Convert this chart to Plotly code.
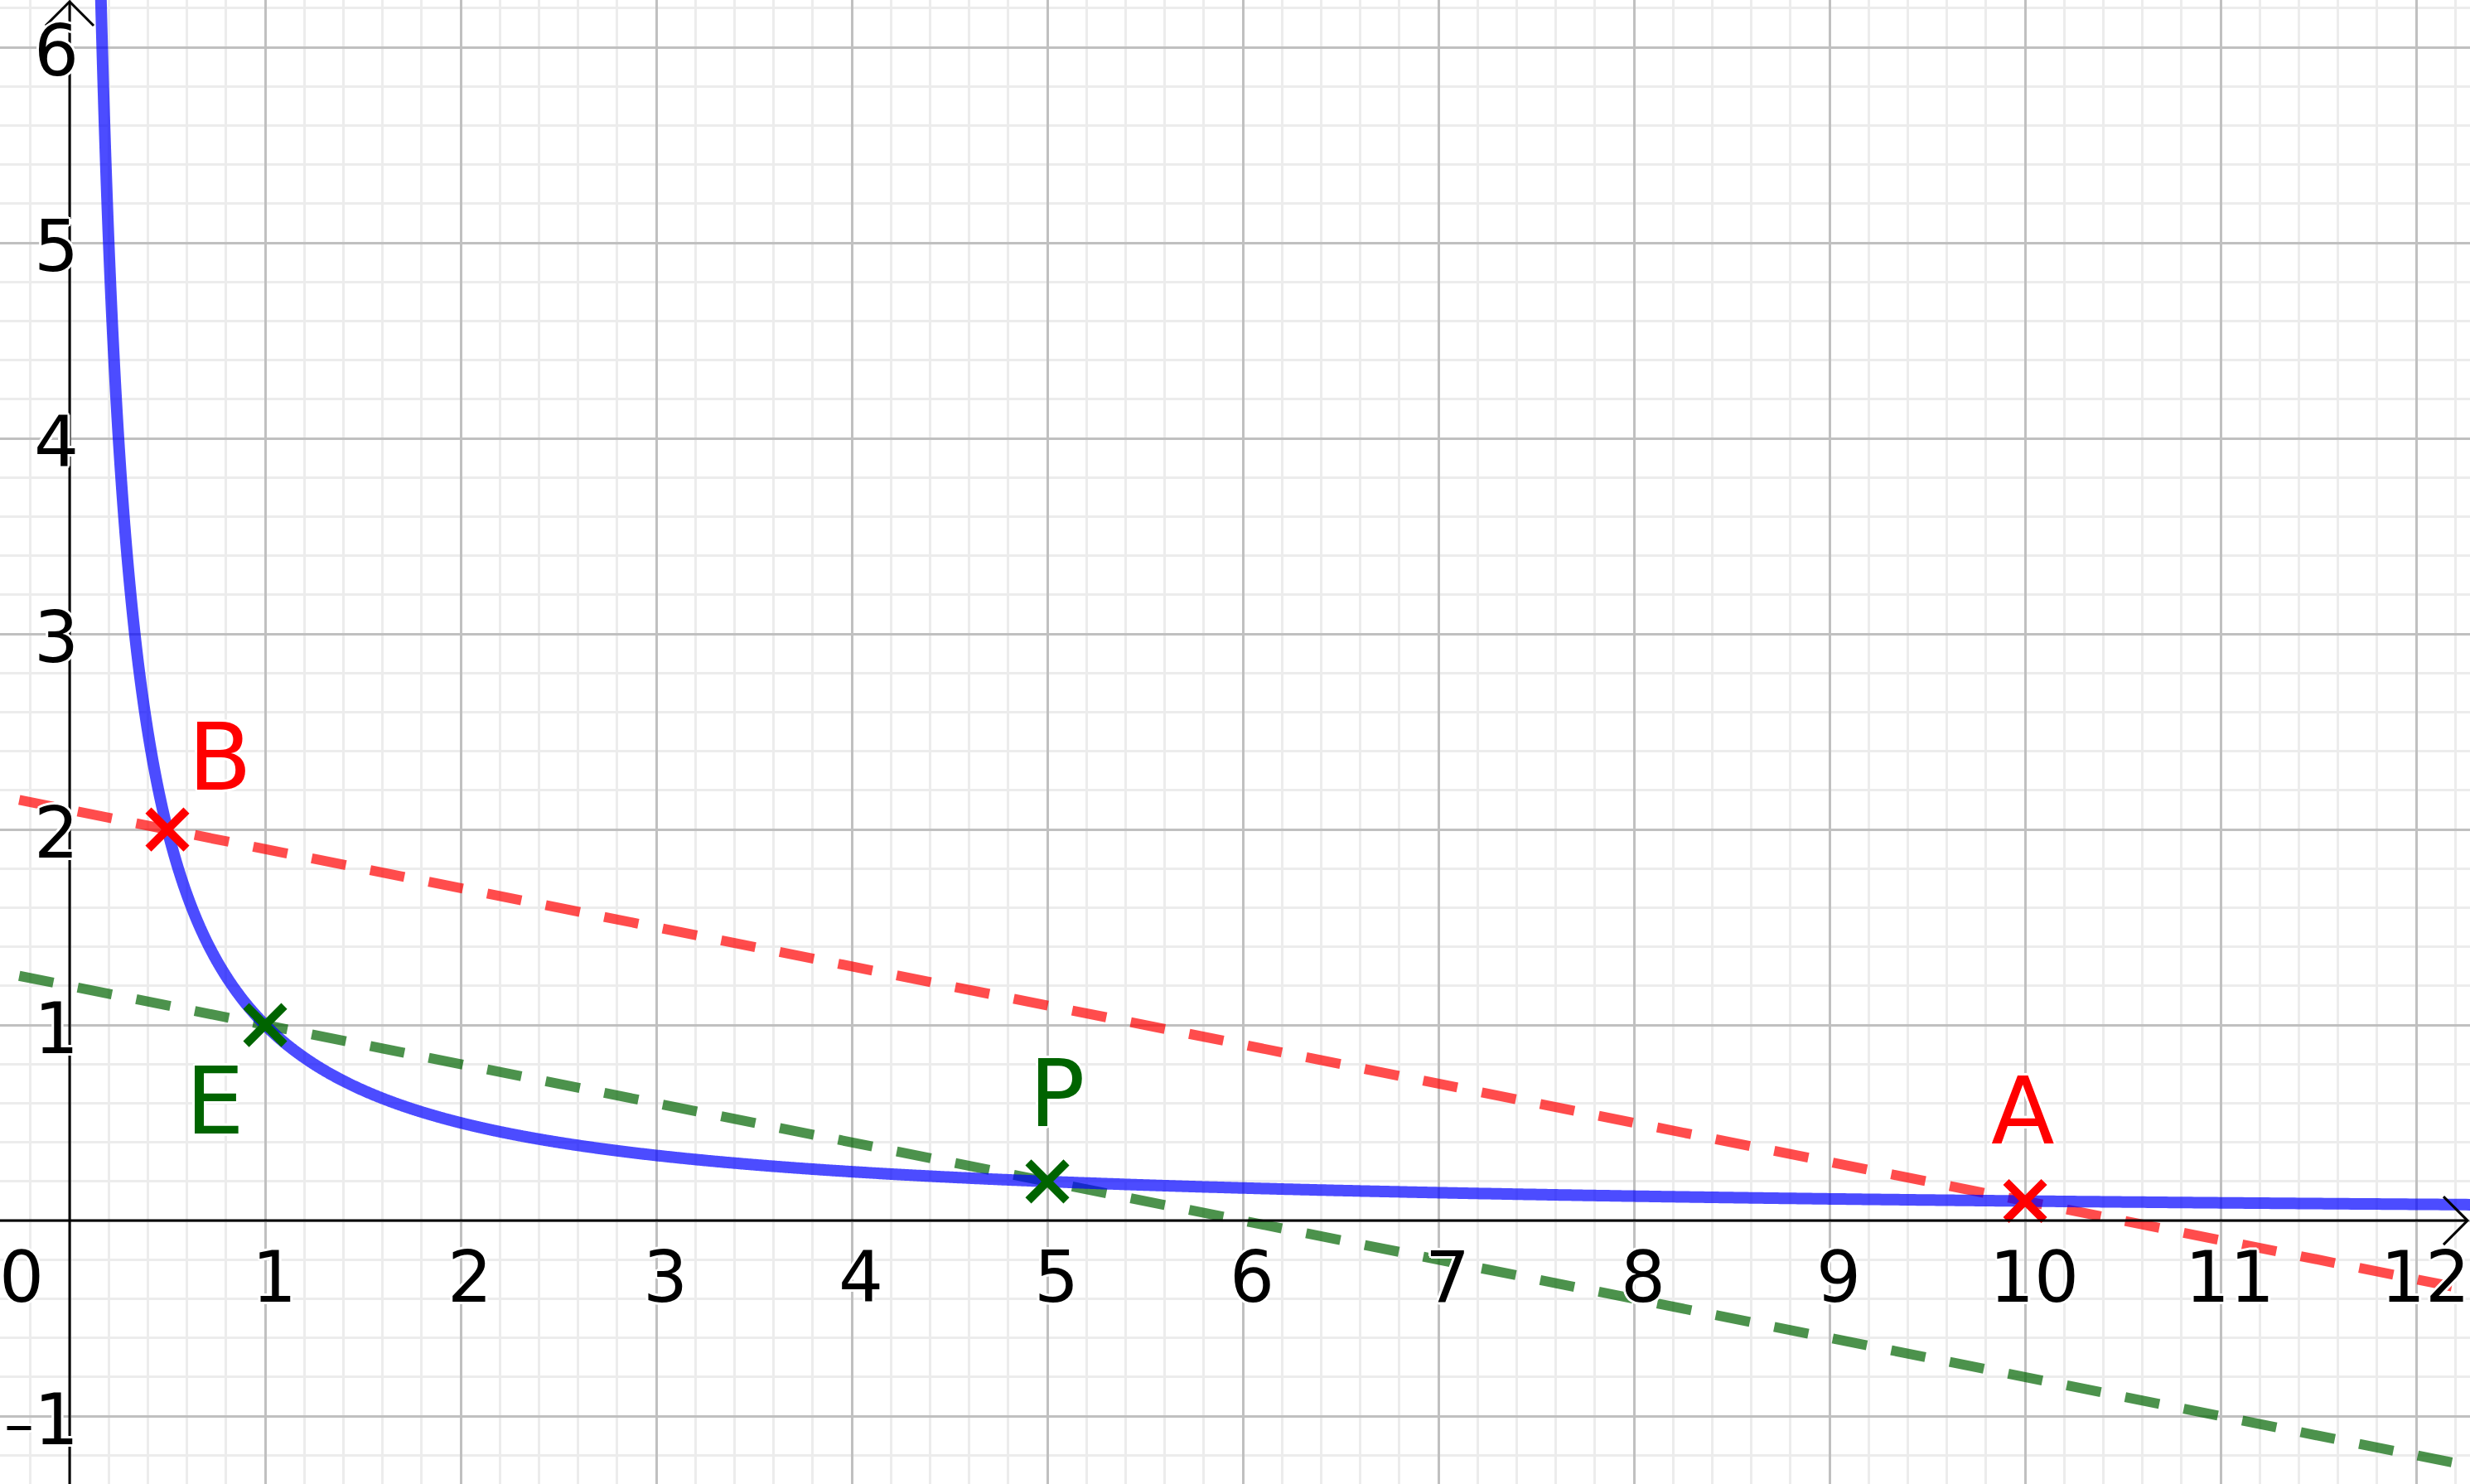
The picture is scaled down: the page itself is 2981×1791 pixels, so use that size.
import numpy as np
import plotly.graph_objects as go

# ---------------- data ----------------
W, H = 2981, 1791
X_RANGE = [-0.356, 12.275]
Y_RANGE = [-1.347, 6.242]

curve_k = 1.0  # graph of y = k / x

point_names = ["B", "E", "P", "A"]
point_x = [0.5, 1.0, 5.0, 10.0]
point_y = [2.0, 1.0, 0.2, 0.1]

red_line_points = ["B", "A"]
green_line_points = ["E", "P"]

x_tick_values = [0, 1, 2, 3, 4, 5, 6, 7, 8, 9, 10, 11, 12]
y_tick_values = [-1, 1, 2, 3, 4, 5, 6]

# ---------------- style ----------------
RED = "#ff0000"
GREEN = "#006400"
point_colors = {"B": RED, "A": RED, "E": GREEN, "P": GREEN}
label_shift = {"B": (63, 87), "E": (-61, -92), "P": (12, 106), "A": (-3, 109)}
FONT = "DejaVu Sans"
HALO = ("-2px -2px 0 #fff, 2px -2px 0 #fff, -2px 2px 0 #fff, 2px 2px 0 #fff, "
        "0 -3px 0 #fff, 0 3px 0 #fff, -3px 0 0 #fff, 3px 0 0 #fff")

ppu = W / (X_RANGE[1] - X_RANGE[0])  # pixels per unit

pts = {n: (x, y) for n, x, y in zip(point_names, point_x, point_y)}

fig = go.Figure()


def add_line_through(p1, p2, color):
    (x1, y1), (x2, y2) = pts[p1], pts[p2]
    m = (y2 - y1) / (x2 - x1)
    xs = [X_RANGE[0] - 0.5, X_RANGE[1] + 0.5]
    ys = [y1 + m * (x - x1) for x in xs]
    fig.add_trace(go.Scatter(x=xs, y=ys, mode="lines",
                             line=dict(color=color, width=12, dash="42px,30px"),
                             hoverinfo="skip", showlegend=False))


add_line_through(*red_line_points, "rgba(255,0,0,0.7)")
add_line_through(*green_line_points, "rgba(0,100,0,0.7)")

# curve y = k/x
cx = np.geomspace(curve_k / (Y_RANGE[1] + 0.5), X_RANGE[1] + 0.5, 3000)
cy = curve_k / cx
fig.add_trace(go.Scatter(x=cx, y=cy, mode="lines",
                         line=dict(color="rgba(0,0,255,0.7)", width=14, simplify=False),
                         hoverinfo="skip", showlegend=False))

# axes lines with open arrowheads
arm = 29 / ppu
tip_x = X_RANGE[1] - 3 / ppu
tip_y = Y_RANGE[1] - 2 / ppu
axis_style = dict(color="black", width=3)
fig.add_shape(type="line", x0=X_RANGE[0], x1=tip_x, y0=0, y1=0, line=axis_style, layer="above")
fig.add_shape(type="line", x0=0, x1=0, y0=Y_RANGE[0], y1=tip_y, line=axis_style, layer="above")
fig.add_shape(type="path",
              path=f"M {tip_x-arm},{arm} L {tip_x},0 L {tip_x-arm},{-arm}",
              line=axis_style, layer="above")
fig.add_shape(type="path",
              path=f"M {-arm},{tip_y-arm} L 0,{tip_y} L {arm},{tip_y-arm}",
              line=axis_style, layer="above")

# points
for n in point_names:
    x, y = pts[n]
    fig.add_trace(go.Scatter(x=[x], y=[y], mode="markers",
                             marker=dict(symbol="x-thin", size=46,
                                         line=dict(color=point_colors[n], width=10)),
                             hoverinfo="skip", showlegend=False))
    dx, dy = label_shift[n]
    fig.add_annotation(x=x, y=y, text=n, showarrow=False, xshift=dx, yshift=dy,
                       xanchor="center", yanchor="middle",
                       font=dict(family=FONT, size=112, color=point_colors[n], shadow=HALO))

# tick labels
tick_font = dict(family=FONT, size=85, color="black", shadow=HALO)
for v in x_tick_values:
    fig.add_annotation(x=v, y=0, text=str(v), showarrow=False,
                       xshift=(-58 if v == 0 else 11), yshift=-68,
                       xanchor="center", yanchor="middle", font=tick_font)
for v in y_tick_values:
    if v < 0:
        txt = "<span style='font-size:72px'>\u2013</span>" + str(abs(v))
    else:
        txt = str(v)
    fig.add_annotation(x=0, y=v, text=txt, showarrow=False,
                       xshift=13, yshift=-4,
                       xanchor="right", yanchor="middle", font=tick_font)

fig.update_layout(
    width=W, height=H,
    margin=dict(l=0, r=0, t=0, b=0, pad=0),
    paper_bgcolor="white", plot_bgcolor="white",
    showlegend=False, hovermode=False,
)
fig.update_xaxes(range=X_RANGE, dtick=1, tick0=0, showgrid=True, gridcolor="#c0c0c0",
                 gridwidth=3, zeroline=False, showticklabels=False, ticks="",
                 minor=dict(dtick=0.2, showgrid=True, gridcolor="#ececec", gridwidth=3),
                 fixedrange=True)
fig.update_yaxes(range=Y_RANGE, dtick=1, tick0=0, showgrid=True, gridcolor="#c0c0c0",
                 gridwidth=3, zeroline=False, showticklabels=False, ticks="",
                 minor=dict(dtick=0.2, showgrid=True, gridcolor="#ececec", gridwidth=3),
                 fixedrange=True)

fig.write_html("out.html", config={"displayModeBar": False},
               post_script="document.body.style.margin='0';document.body.style.overflow='hidden';")
